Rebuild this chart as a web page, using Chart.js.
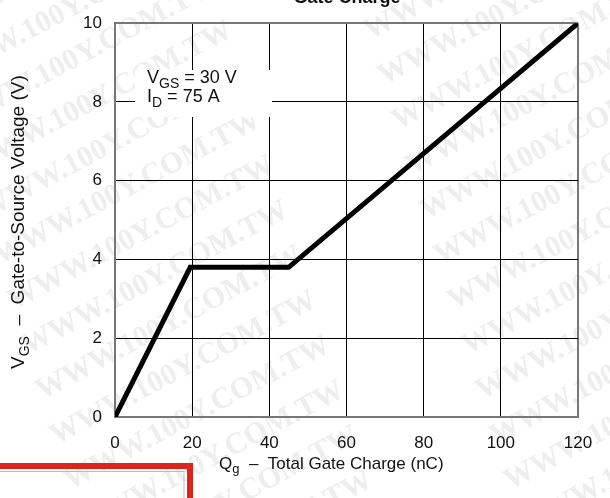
<!DOCTYPE html>
<html>
<head>
<meta charset="utf-8">
<script src="https://cdn.jsdelivr.net/npm/chart.js@4"></script>
<style>
  html, body { margin: 0; padding: 0; background: #fff; }
  #wrap { width: 610px; height: 498px; position: relative; }
</style>
</head>
<body>
<div id="wrap"><canvas id="gate"></canvas></div>
<script>
// values
const charge = [0, 19.5, 45, 120];      // Qg (nC)
const vgs = [0, 3.8, 3.8, 10];          // VGS (V)
const xTicks = [0, 20, 40, 60, 80, 100, 120];
const yTicks = [0, 2, 4, 6, 8, 10];

const FONT = "'Liberation Sans', Arial, sans-serif";

// draws a run of text pieces, some as subscripts
function drawRich(ctx, parts, x, y, size, align) {
  const subSize = Math.round(size * 0.75);
  let w = 0;
  parts.forEach((p) => {
    ctx.font = `${p.sub ? subSize : size}px ${FONT}`;
    w += ctx.measureText(p.t).width;
  });
  let cx = align === "center" ? x - w / 2 : x;
  ctx.textAlign = "left";
  ctx.textBaseline = "alphabetic";
  parts.forEach((p) => {
    ctx.font = `${p.sub ? subSize : size}px ${FONT}`;
    ctx.fillText(p.t, cx, p.sub ? y + size * 0.25 : y);
    cx += ctx.measureText(p.t).width;
  });
}

const watermark = {
  id: "watermark",
  beforeDraw(chart) {
    const ctx = chart.ctx;
    ctx.save();
    ctx.fillStyle = "#eeeeee";
    ctx.font = "bold 30px 'Liberation Serif', serif";
    for (let k = -3; k < 14; k++) {
      [[-70, 40], [370, 40]].forEach(([bx, by]) => {
        ctx.save();
        ctx.translate(bx + k * 14, by + k * 45);
        ctx.rotate(-28 * Math.PI / 180);
        ctx.fillText("WWW.100Y.COM.TW", 0, 0);
        ctx.restore();
      });
    }
    ctx.restore();
  },
};

const labels = {
  id: "labels",
  afterDraw(chart) {
    const ctx = chart.ctx;
    const area = chart.chartArea;
    ctx.save();
    ctx.fillStyle = "#111";

    // title, clipped by the top of the picture
    ctx.font = `bold 18px ${FONT}`;
    ctx.textAlign = "center";
    ctx.fillText("Gate Charge", 347, 3);

    // condition box
    ctx.fillStyle = "#fff";
    ctx.fillRect(135, 70, 137, 47);
    ctx.fillStyle = "#111";
    drawRich(ctx, [{ t: "V" }, { t: "GS", sub: true }, { t: " = 30 V" }], 147, 83, 18, "left");
    drawRich(ctx, [{ t: "I" }, { t: "D", sub: true }, { t: " = 75 A" }], 147, 102, 18, "left");

    // axis titles
    drawRich(ctx, [{ t: "Q" }, { t: "g", sub: true }, { t: "  \u2013  Total Gate Charge (nC)" }], 219, 469, 17, "left");
    ctx.save();
    ctx.translate(24, (area.top + area.bottom) / 2 + 2);
    ctx.rotate(-Math.PI / 2);
    drawRich(ctx, [{ t: "V" }, { t: "GS", sub: true }, { t: "  \u2013  Gate-to-Source Voltage (V)" }], 0, 0, 19, "center");
    ctx.restore();

    // red frame at the bottom left
    ctx.strokeStyle = "#d9261c";
    ctx.lineWidth = 6;
    ctx.strokeRect(-10, 466, 200, 50);
    ctx.strokeStyle = "#bbb";
    ctx.lineWidth = 1;
    ctx.strokeRect(-10, 471.5, 194, 40);
    ctx.restore();
  },
};

const ctx = document.getElementById("gate").getContext("2d");

new Chart(ctx, {
  type: "scatter",
  data: {
    datasets: [
      {
        data: charge.map((q, i) => ({ x: q, y: vgs[i] })),
        showLine: true,
        borderColor: "#000",
        borderWidth: 5,
        pointRadius: 0,
        borderJoinStyle: "miter",
        tension: 0,
      },
    ],
  },
  options: {
    responsive: true,
    maintainAspectRatio: false,
    animation: false,
    layout: {
      padding: { top: 14, right: 32, left: 0, bottom: 0 },
    },
    plugins: {
      legend: { display: false },
      tooltip: { enabled: false },
    },
    scales: {
      x: {
        type: "linear",
        min: 0,
        max: 120,
        afterBuildTicks: (scale) => {
          scale.ticks = xTicks.map((v) => ({ value: v }));
        },
        afterFit: (scale) => {
          scale.height = 81;
        },
        grid: {
          drawTicks: false,
          color: (c) => (c.tick && c.tick.value === 120 ? "#777" : "#000"),
          lineWidth: (c) => (c.tick && c.tick.value === 120 ? 2 : 1),
        },
        border: { color: "#777", width: 2 },
        ticks: {
          padding: 16,
          color: "#111",
          font: { family: FONT, size: 17 },
        },
      },
      y: {
        min: 0,
        max: 10,
        afterBuildTicks: (scale) => {
          scale.ticks = yTicks.map((v) => ({ value: v }));
        },
        afterFit: (scale) => {
          scale.width = 115;
        },
        grid: {
          drawTicks: false,
          color: (c) => (c.tick && c.tick.value === 10 ? "#777" : "#000"),
          lineWidth: (c) => (c.tick && c.tick.value === 10 ? 2 : 1),
        },
        border: { color: "#777", width: 2 },
        ticks: {
          padding: 13,
          color: "#111",
          font: { family: FONT, size: 17 },
        },
      },
    },
  },
  plugins: [watermark, labels],
});
</script>
</body>
</html>
